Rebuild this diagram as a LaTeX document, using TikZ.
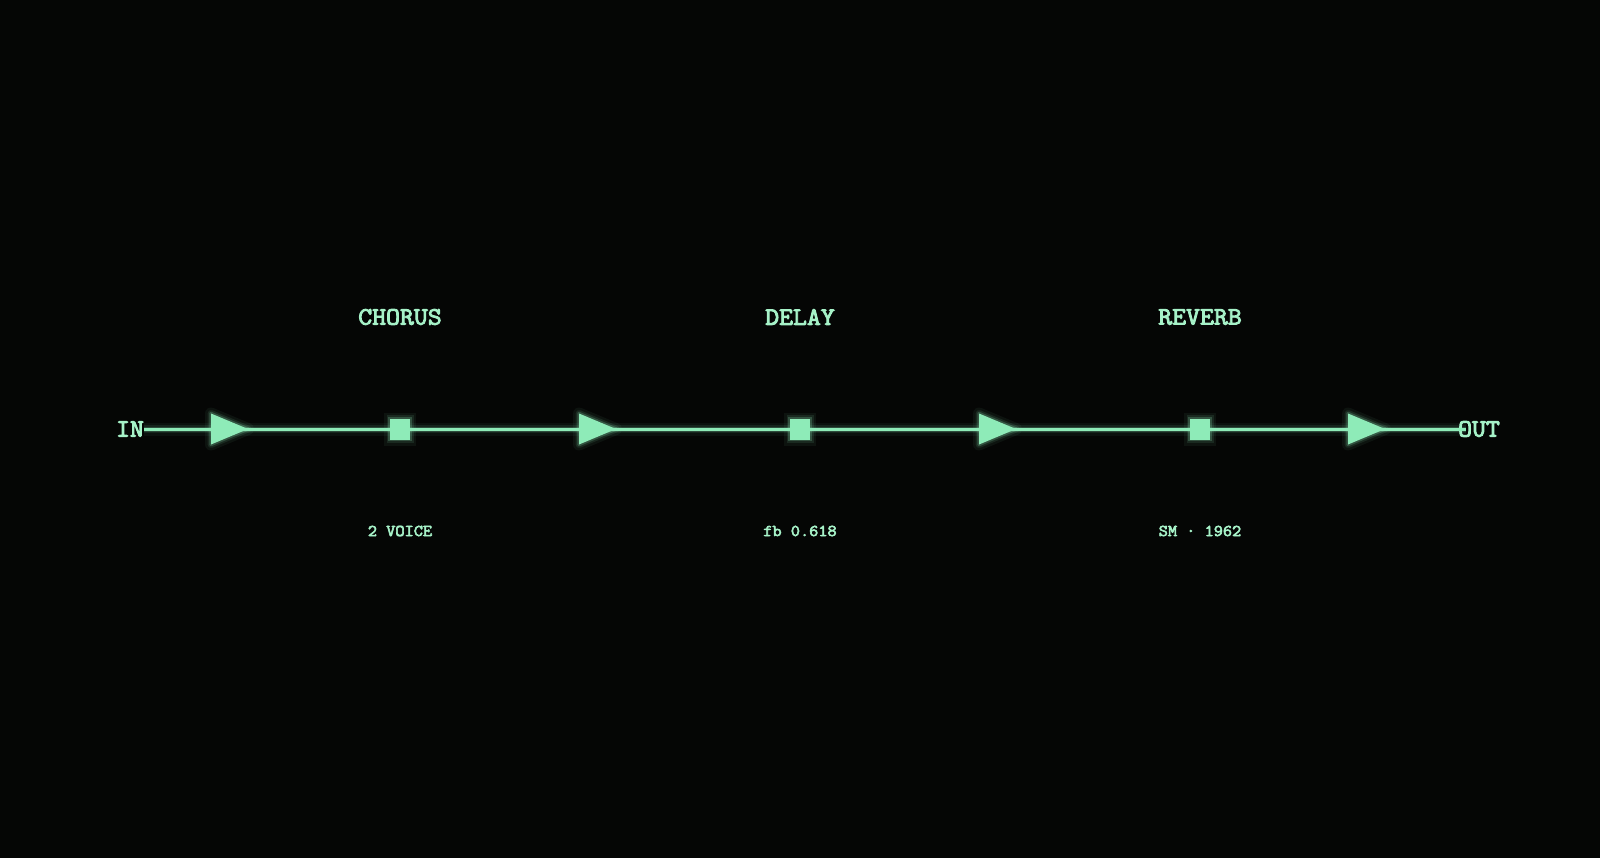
\documentclass[tikz,border=0pt]{standalone}
\usepackage{fontspec}
\newfontfamily\crtfont[FakeBold=3.6,FakeStretch=1.08]{Latin Modern Mono}
\definecolor{bg}{HTML}{050605}
\definecolor{phos}{HTML}{8EEBB8}
\definecolor{phostext}{HTML}{A6F2C8}
\begin{document}
\begin{tikzpicture}[x=1pt,y=-1pt,
  lbl/.style={text=phostext,font=\crtfont\fontsize{25}{25}\selectfont,inner sep=0pt},
  sublbl/.style={text=phostext,font=\crtfont\fontsize{16.5}{16.5}\selectfont,inner sep=0pt},
  port/.style={text=phostext,font=\crtfont\fontsize{25}{25}\selectfont,inner sep=0pt},
  block/.style={fill=phos,minimum width=20pt,minimum height=21pt,inner sep=0pt,
    preaction={draw=phos,line width=12pt,opacity=0.06},
    preaction={draw=phos,line width=7pt,opacity=0.10},
    preaction={draw=phos,line width=3.5pt,opacity=0.22}},
  wire/.style={draw=phos,line width=3pt},
  wireglow/.style={draw=phos,line width=13pt,opacity=0.05},
  wireglow1/.style={draw=phos,line width=8pt,opacity=0.09},
  wireglow2/.style={draw=phos,line width=5pt,opacity=0.2},
  arrowtri/.style={fill=phos,line join=miter,
    preaction={draw=phos,line width=12pt,opacity=0.06,line join=round},
    preaction={draw=phos,line width=7pt,opacity=0.10,line join=round},
    preaction={draw=phos,line width=3.5pt,opacity=0.22,line join=round}},
]
\useasboundingbox (0,0) rectangle (1600,858);
\fill[bg] (0,0) rectangle (1600,858);

% ports
\node[port] (in) at (130,429) {IN};
\node[port] (out) at (1479,429) {OUT};

% arrow-triangle anchor points (tips)
\coordinate (t1) at (248,429);
\coordinate (t2) at (616,429);
\coordinate (t3) at (1016,429);
\coordinate (t4) at (1385,429);
\coordinate (lineend) at (1466,429);

% wire glow
\path[wireglow] (in.east) -- (lineend);
\path[wireglow1] (in.east) -- (lineend);
\path[wireglow2] (in.east) -- (lineend);

% blocks
\node[block] (s1) at (400,429) {};
\node[block] (s2) at (800,429) {};
\node[block] (s3) at (1200,429) {};

% wires node to node
\path[wire] (in.east) -- (t1) -- (s1) -- (t2) -- (s2) -- (t3) -- (s3) -- (t4) -- (lineend);

% triangles
\foreach \t in {t1,t2,t3,t4}{
  \path[arrowtri] (\t) -- ++(-37,-15.5) -- ++(0,31) -- cycle;
}

% labels
\node[lbl] (l1) at (400,317) {CHORUS};
\node[lbl] (l2) at (800,317) {DELAY};
\node[lbl] (l3) at (1200,317) {REVERB};
\node[sublbl] (d1) at (400,531) {2 VOICE};
\node[sublbl] (d2) at (800,531) {fb 0.618};
\node[sublbl] (d3) at (1200,531) {SM · 1962};
\end{tikzpicture}
\end{document}
